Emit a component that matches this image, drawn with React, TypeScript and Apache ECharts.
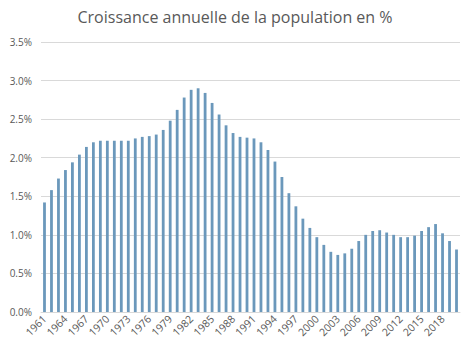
import React, { useEffect, useRef } from "react";
import * as echarts from "echarts";

const years: string[] = [];
for (let y = 1961; y <= 2020; y++) years.push(String(y));

const growth: number[] = [
  1.42, 1.58, 1.73, 1.84, 1.94, 2.04, 2.14, 2.2, 2.22, 2.22,
  2.22, 2.22, 2.22, 2.25, 2.27, 2.28, 2.3, 2.36, 2.48, 2.62,
  2.78, 2.88, 2.9, 2.84, 2.71, 2.56, 2.42, 2.32, 2.27, 2.26,
  2.25, 2.2, 2.1, 1.95, 1.75, 1.54, 1.37, 1.21, 1.09, 0.97,
  0.87, 0.78, 0.74, 0.76, 0.82, 0.92, 1.0, 1.05, 1.06, 1.03,
  1.0, 0.97, 0.97, 0.99, 1.05, 1.1, 1.14, 1.02, 0.92, 0.81,
];

const yTicks = { min: 0, max: 3.5, interval: 0.5 };

export default function App() {
  const ref = useRef<HTMLDivElement>(null);
  useEffect(() => {
    if (!ref.current) return;
    const chart = echarts.init(ref.current, null, { renderer: "svg" });
    const font = "Open Sans, Liberation Sans, sans-serif";
    chart.setOption({
      animation: false,
      backgroundColor: "#ffffff",
      title: {
        text: "Croissance annuelle de la population en %",
        left: "center",
        top: 4,
        textStyle: { fontFamily: font, fontSize: 16, fontWeight: "normal", color: "#595959" },
      },
      grid: { left: 41, right: 10, top: 42, bottom: 39, containLabel: false },
      xAxis: {
        type: "category",
        data: years,
        boundaryGap: true,
        axisLine: { show: true, lineStyle: { color: "#d9d9d9" } },
        axisTick: { show: false },
        axisLabel: {
          interval: 2,
          rotate: 45,
          color: "#595959",
          fontFamily: font,
          fontSize: 10.5,
          margin: 5,
          hideOverlap: false,
        },
      },
      yAxis: {
        type: "value",
        min: yTicks.min,
        max: yTicks.max,
        interval: yTicks.interval,
        axisLine: { show: false },
        axisTick: { show: false },
        splitLine: { lineStyle: { color: "#d9d9d9" } },
        axisLabel: {
          color: "#595959",
          fontFamily: font,
          fontSize: 10,
          margin: 9,
          formatter: (v: number) => v.toFixed(1) + "%",
        },
      },
      series: [
        {
          type: "bar",
          data: growth,
          barWidth: 2.8,
          itemStyle: { color: "#6b98bb" },
        },
      ],
    });
    return () => chart.dispose();
  }, []);
  return (
    <div style={{ margin: -8, width: 470, height: 351, background: "#fff" }}>
      <div ref={ref} style={{ width: 470, height: 351 }} />
    </div>
  );
}
